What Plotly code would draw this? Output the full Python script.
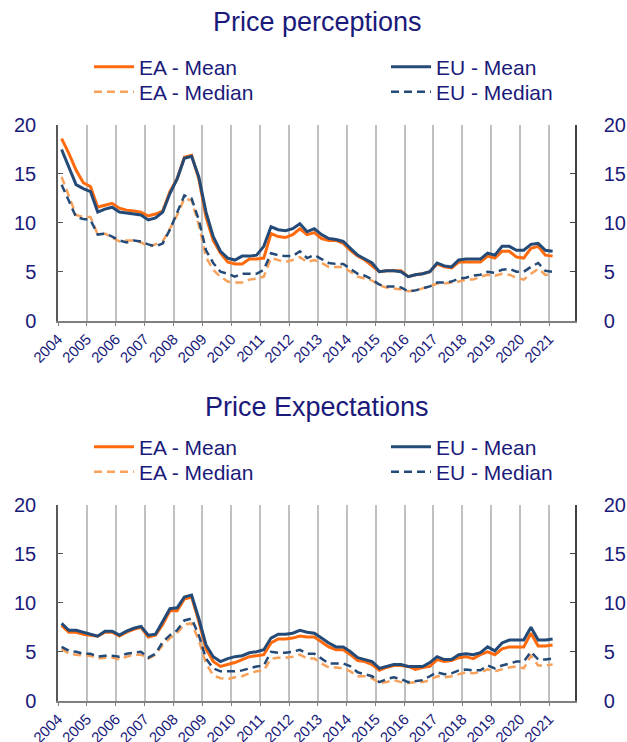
import plotly.graph_objects as go

# ---------------- data (quarterly, 2004Q1 .. 2021Q1) ----------------
first_year = 2004
n_quarters = 69
quarters = [f"{first_year + i // 4}Q{i % 4 + 1}" for i in range(n_quarters)]
years = list(range(2004, 2022))

perc_ea_mean = [18.6, 17.1, 15.4, 14.1, 13.7, 11.6, 11.8, 12.0, 11.5, 11.3, 11.2, 11.1, 10.7, 10.9, 11.2, 13.2,
                14.5, 16.7, 16.9, 14.5, 10.6, 8.2, 6.9, 6.0, 5.8,
                5.8, 6.3, 6.3, 6.4, 8.9, 8.6, 8.5, 8.8, 9.4, 8.8, 9.0, 8.4, 8.2, 8.2, 7.9, 7.2, 6.6, 6.2, 5.6,
                5.0, 5.1, 5.1, 5.1,
                4.5, 4.7, 4.8, 5.0, 5.8, 5.5, 5.4, 6.0, 6.0, 6.0, 6.0, 6.6, 6.4, 7.1, 7.1, 6.5, 6.4, 7.4, 7.6,
                6.7, 6.6]
perc_eu_mean = [17.5, 15.7, 13.9, 13.5, 13.2, 11.1, 11.4, 11.6, 11.1, 11.0, 10.9, 10.8, 10.3, 10.5, 11.1, 13.0,
                14.5, 16.6, 16.8, 14.7, 11.1, 8.6, 7.1, 6.4, 6.2,
                6.6, 6.6, 6.7, 7.6, 9.6, 9.3, 9.2, 9.4, 9.9, 9.1, 9.4, 8.8, 8.4, 8.3, 8.1, 7.4, 6.7, 6.3, 5.9,
                5.0, 5.1, 5.1, 5.0,
                4.5, 4.7, 4.8, 5.0, 5.9, 5.6, 5.5, 6.2, 6.3, 6.3, 6.3, 6.9, 6.7, 7.6, 7.6, 7.2, 7.2, 7.8, 7.9,
                7.2, 7.1]
perc_ea_median = [14.7, 12.8, 10.8, 10.6, 10.6, 8.8, 8.9, 8.5, 8.1, 8.2, 8.2, 8.0, 7.6, 7.8, 8.1, 9.4,
                  10.8, 12.5, 12.3, 9.8, 6.5, 5.2, 4.5, 4.0, 3.9,
                  3.9, 4.2, 4.3, 4.5, 6.4, 6.2, 6.0, 6.2, 6.5, 6.0, 6.2, 5.9, 5.5, 5.5, 5.5, 5.0, 4.5, 4.3, 4.1,
                  3.6, 3.4, 3.3, 3.2,
                  3.0, 3.1, 3.3, 3.5, 3.8, 3.8, 3.9, 4.0, 4.2, 4.2, 4.5, 4.7, 4.6, 4.8, 4.7, 4.4, 4.2, 4.8, 5.3,
                  4.7, 4.6]
perc_eu_median = [13.9, 12.2, 10.6, 10.4, 10.3, 8.8, 8.9, 8.6, 8.2, 8.0, 8.2, 8.1, 7.8, 7.6, 7.9, 9.3,
                  11.0, 12.8, 12.5, 10.3, 7.2, 5.9, 5.0, 4.8, 4.5,
                  4.8, 4.8, 4.8, 5.2, 6.9, 6.7, 6.6, 6.6, 7.1, 6.4, 6.7, 6.3, 5.9, 5.8, 5.8, 5.3, 4.8, 4.6, 4.2,
                  3.7, 3.5, 3.5, 3.4,
                  3.0, 3.1, 3.3, 3.5, 3.9, 3.9, 4.0, 4.3, 4.4, 4.6, 4.7, 5.0, 4.9, 5.2, 5.3, 5.0, 5.0, 5.5, 5.9,
                  5.1, 5.0]

exp_ea_mean = [7.7, 7.0, 7.0, 6.8, 6.7, 6.6, 7.0, 7.0, 6.6, 7.0, 7.3, 7.5, 6.5, 6.7, 7.8, 9.2,
               9.2, 10.4, 10.6, 8.1, 5.3, 4.0, 3.5, 3.7, 3.9,
               4.2, 4.5, 4.6, 4.7, 5.9, 6.3, 6.3, 6.4, 6.6, 6.5, 6.5, 6.0, 5.5, 5.2, 5.2, 4.7, 4.1, 4.0, 3.7,
               3.1, 3.4, 3.6, 3.6,
               3.5, 3.2, 3.4, 3.5, 4.2, 4.0, 4.1, 4.4, 4.5, 4.3, 4.7, 5.0, 4.7, 5.3, 5.5, 5.5, 5.5, 6.9, 5.6,
               5.6, 5.7]
exp_eu_mean = [7.9, 7.2, 7.2, 7.0, 6.8, 6.6, 7.1, 7.1, 6.7, 7.1, 7.4, 7.6, 6.7, 6.8, 8.1, 9.4,
               9.5, 10.6, 10.8, 8.4, 5.7, 4.5, 4.0, 4.3, 4.5,
               4.6, 4.9, 5.0, 5.2, 6.4, 6.8, 6.8, 6.9, 7.2, 7.0, 6.9, 6.4, 5.9, 5.5, 5.5, 5.0, 4.4, 4.2, 4.0,
               3.3, 3.5, 3.7, 3.7,
               3.5, 3.5, 3.5, 3.9, 4.5, 4.2, 4.2, 4.7, 4.8, 4.7, 4.9, 5.5, 5.1, 5.9, 6.2, 6.2, 6.2, 7.5, 6.2,
               6.2, 6.3]
exp_ea_median = [5.3, 4.8, 4.7, 4.6, 4.6, 4.3, 4.4, 4.4, 4.2, 4.5, 4.7, 4.7, 4.3, 4.7, 5.7, 6.4,
                 6.9, 7.8, 7.9, 6.2, 3.8, 2.6, 2.3, 2.2, 2.4,
                 2.5, 2.8, 3.0, 3.1, 4.3, 4.4, 4.4, 4.5, 4.7, 4.3, 4.3, 3.8, 3.4, 3.4, 3.3, 3.0, 2.5, 2.5, 2.3,
                 1.8, 1.9, 2.1, 1.9,
                 1.8, 1.9, 1.9, 2.1, 2.5, 2.4, 2.5, 2.7, 2.9, 2.8, 2.9, 3.2, 3.0, 3.2, 3.4, 3.5, 3.3, 4.6, 3.6,
                 3.6, 3.7]
exp_eu_median = [5.5, 5.1, 5.0, 4.8, 4.8, 4.5, 4.6, 4.6, 4.5, 4.8, 4.9, 5.0, 4.4, 4.8, 6.0, 6.7,
                 7.2, 8.2, 8.4, 6.7, 4.3, 3.3, 3.0, 3.0, 3.0,
                 3.1, 3.3, 3.5, 3.6, 5.0, 4.9, 4.9, 5.0, 5.2, 4.8, 4.8, 4.3, 3.8, 3.8, 3.8, 3.5, 2.9, 2.7, 2.5,
                 1.9, 2.2, 2.4, 2.2,
                 1.9, 2.0, 2.1, 2.5, 2.9, 2.7, 2.8, 3.1, 3.2, 3.1, 3.1, 3.6, 3.3, 3.6, 3.8, 4.0, 4.0, 5.0, 4.2,
                 4.2, 4.3]

series_names = ["EA - Mean", "EU - Mean", "EA - Median", "EU - Median"]
panel_titles = ["Price perceptions", "Price Expectations"]

# decimal-year position of each quarter (mid-quarter)
x_vals = [int(q[:4]) + (int(q[-1]) - 0.5) / 4 for q in quarters]

# ---------------- styling ----------------
FONT = "Liberation Sans, Arial, sans-serif"
TXT = "#1A1A7A"
ORANGE = "#FF6A0D"
ORANGE_LIGHT = "#F8A15A"
BLUE = "#244A78"
GRID = "#C0C0C0"

W, H = 627, 742
x0, x1 = 58 / W, 575 / W
panel_px = [(125, 320.7), (505, 700.7)]          # (top, bottom) of each plot area in px
title_px = [22, 407]
legend_rows_px = [(67, 92), (447, 472)]
legend_cols_px = [89, 386]

fig = go.Figure()

styles = {
    "EA - Mean": dict(color=ORANGE, width=3, dash="solid"),
    "EU - Mean": dict(color=BLUE, width=3, dash="solid"),
    "EA - Median": dict(color=ORANGE_LIGHT, width=2.5, dash="8px,5px"),
    "EU - Median": dict(color=BLUE, width=2.5, dash="8px,5px"),
}
draw_order = ["EA - Median", "EU - Median", "EA - Mean", "EU - Mean"]

panels = [
    dict(zip(series_names, [perc_ea_mean, perc_eu_mean, perc_ea_median, perc_eu_median])),
    dict(zip(series_names, [exp_ea_mean, exp_eu_mean, exp_ea_median, exp_eu_median])),
]

legend_layouts = {}
for p, data in enumerate(panels):
    xa = "x" if p == 0 else "x2"
    ya = "y" if p == 0 else "y2"
    ya_right = "y3" if p == 0 else "y4"
    for name in draw_order:
        k = series_names.index(name)
        idx = p * 4 + k + 1
        lg = "legend" if idx == 1 else f"legend{idx}"
        col = 0 if name.startswith("EA") else 1
        row = 0 if name.endswith("Mean") else 1
        legend_layouts[lg] = dict(
            orientation="v", x=legend_cols_px[col] / W, xanchor="left",
            y=1 - legend_rows_px[p][row] / H, yanchor="middle",
            font=dict(family=FONT, size=21, color=TXT), bgcolor="rgba(0,0,0,0)",
            itemwidth=40,
        )
        fig.add_trace(go.Scatter(
            x=x_vals, y=data[name], name=name, mode="lines",
            line=styles[name], xaxis=xa, yaxis=ya, legend=lg, showlegend=True,
        ))
    # invisible companion trace so the right-hand value axis is drawn
    fig.add_trace(go.Scatter(
        x=x_vals, y=data["EU - Mean"], mode="lines", line=dict(width=0, color="rgba(0,0,0,0)"),
        xaxis=xa, yaxis=ya_right, showlegend=False, hoverinfo="skip",
    ))

common_x = dict(
    range=[2004, 2021.9], tickmode="array", tickvals=years, ticktext=[str(y) for y in years],
    tickangle=-45, tickfont=dict(family=FONT, size=15, color=TXT), ticklabelstandoff=-2,
    showgrid=True, gridcolor=GRID, gridwidth=2, zeroline=False,
    showline=True, linecolor="#7F7F7F", linewidth=1.5,
    ticks="outside", ticklen=4, tickcolor="#7F7F7F", automargin=False,
)
common_y = dict(
    range=[0, 20], tickmode="linear", tick0=0, dtick=5,
    tickfont=dict(family=FONT, size=20, color=TXT),
    showgrid=False, zeroline=False, showline=True, linewidth=1.5,
    ticks="inside", ticklen=5, automargin=False,
)
doms = [[1 - b / H, 1 - t / H] for t, b in panel_px]

fig.update_layout(
    width=W, height=H, margin=dict(l=0, r=0, t=0, b=0),
    paper_bgcolor="white", plot_bgcolor="white",
    font=dict(family=FONT, color=TXT),
    xaxis=dict(domain=[x0, x1], anchor="y", **common_x),
    xaxis2=dict(domain=[x0, x1], anchor="y2", **common_x),
    yaxis=dict(domain=doms[0], anchor="x", linecolor="#595959", tickcolor="#595959",
               ticklabelstandoff=16, **common_y),
    yaxis2=dict(domain=doms[1], anchor="x2", linecolor="#595959", tickcolor="#595959",
                ticklabelstandoff=16, **common_y),
    yaxis3=dict(overlaying="y", side="right", anchor="x", linecolor="#404040", tickcolor="#404040",
                ticklabelstandoff=23, **common_y),
    yaxis4=dict(overlaying="y2", side="right", anchor="x2", linecolor="#404040", tickcolor="#404040",
                ticklabelstandoff=23, **common_y),
    annotations=[
        dict(text=panel_titles[i], x=317 / W, y=1 - title_px[i] / H, xref="paper", yref="paper",
             showarrow=False, font=dict(family=FONT, size=27, color=TXT),
             xanchor="center", yanchor="middle")
        for i in range(2)
    ],
    showlegend=True,
    **legend_layouts,
)

# remove the default page margin so the 627x742 figure fills the window exactly
fig.write_html(
    "out.html",
    config={"displayModeBar": False},
    post_script="document.body.style.margin='0px';document.body.style.overflow='hidden';",
)
